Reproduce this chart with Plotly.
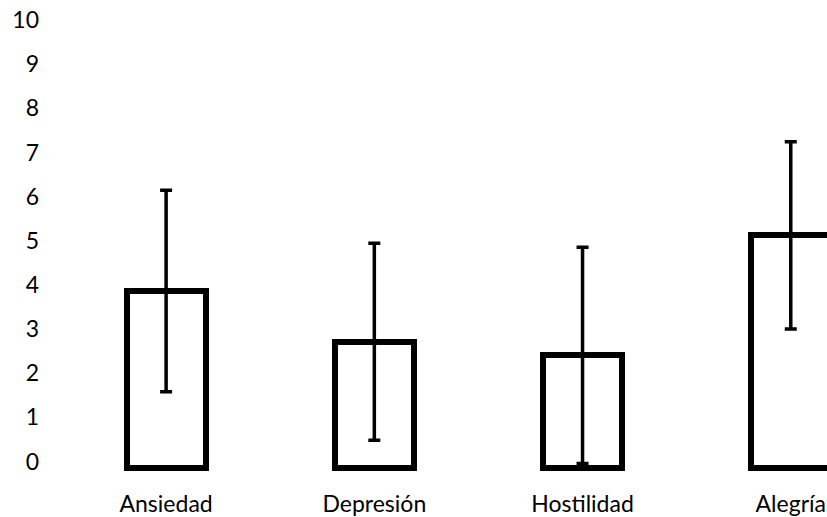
import plotly.graph_objects as go

categories = ["Ansiedad", "Depresión", "Hostilidad", "Alegría"]
means = [4.0, 2.85, 2.54, 5.26]
errors = [2.28, 2.23, 2.45, 2.12]
y_ticks = list(range(0, 11))

FONT = "Lato"

fig = go.Figure()
fig.add_trace(go.Bar(
    x=categories,
    y=means,
    width=0.38,
    marker=dict(color="white", line=dict(color="black", width=6)),
    error_y=dict(type="data", array=errors, visible=True,
                 color="black", thickness=3.5, width=6),
    showlegend=False,
))

fig.update_layout(
    width=827, height=517,
    margin=dict(l=62, r=0, t=26, b=45, autoexpand=False),
    paper_bgcolor="white", plot_bgcolor="white",
    font=dict(family=FONT, size=23, color="black"),
    bargap=0,
)
fig.update_xaxes(range=[-0.5, 3.174], showgrid=False, zeroline=False,
                 showline=False, ticks="", tickfont=dict(size=23),
                 ticklabelstandoff=16, automargin=False)
fig.update_yaxes(range=[-0.1, 10], tickvals=y_ticks, showgrid=False,
                 zeroline=False, showline=False, ticks="",
                 tickfont=dict(size=23), ticklabelshift=-6,
                 ticklabelstandoff=22, automargin=False)

fig.write_html(
    "out.html",
    config={"displayModeBar": False},
    post_script="document.body.style.margin='0';document.body.style.overflow='hidden';",
)
